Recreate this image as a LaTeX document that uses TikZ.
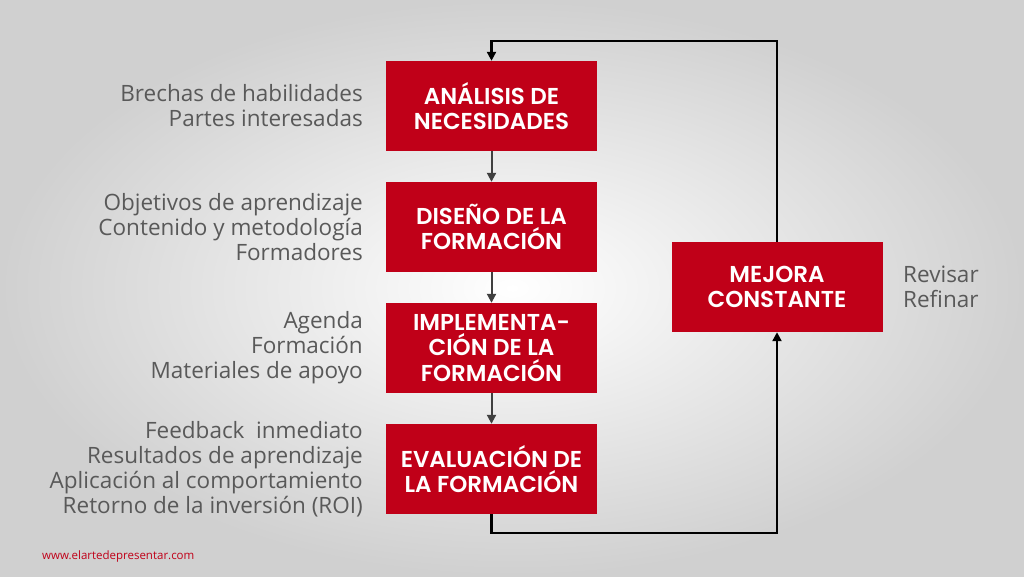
\documentclass[tikz,border=0pt]{standalone}
\usepackage{fontspec}
\setmainfont{Open Sans}
\newfontfamily\boxfont{Poppins}[BoldFont={* SemiBold}]
\usetikzlibrary{arrows.meta}
\definecolor{boxred}{HTML}{C00018}
\definecolor{txtgray}{HTML}{595959}
\definecolor{bgedge}{HTML}{D0D0D0}
\begin{document}
\begin{tikzpicture}[x=1pt,y=-1pt,
  rbox/.style={fill=boxred,minimum width=211pt,minimum height=90pt,inner sep=0pt,
    text=white,font=\boxfont\bfseries\fontsize{23}{25.5}\selectfont,align=center},
  lbl/.style={anchor=east,text=txtgray,align=right,font=\fontsize{22.5}{25}\selectfont,inner sep=0pt},
  conn/.style={draw=black!75,line width=2pt,-{Triangle[length=9pt,width=9pt]}},
  loop/.style={draw=black,line width=2.2pt,-{Triangle[length=9pt,width=9pt]}}]
\useasboundingbox (0,0) rectangle (1024,576);
\shade[inner color=white,outer color=bgedge] (0,0) rectangle (1024,576);
\node[rbox] (a) at (491.5,106) {ANÁLISIS DE\\NECESIDADES};
\node[rbox] (d) at (491.5,227) {DISEÑO DE LA\\FORMACIÓN};
\node[rbox] (i) at (491.5,348) {IMPLEMENTA-\\CIÓN DE LA\\FORMACIÓN};
\node[rbox] (e) at (491.5,469) {EVALUACIÓN DE\\LA FORMACIÓN};
\node[rbox] (m) at (777,287) {MEJORA\\CONSTANTE};
\draw[conn] (a) -- (d);
\draw[conn] (d) -- (i);
\draw[conn] (i) -- (e);
\coordinate (b1) at (491.5,533);
\coordinate (b2) at (777,533);
\coordinate (t1) at (777,41);
\coordinate (t2) at (491.5,41);
\draw[loop] (e.south) -- (b1) -- (b2) -- (m.south);
\draw[loop] (m.north) -- (t1) -- (t2) -- (a.north);
\node[lbl] (la) at (363,106) {Brechas de habilidades\\Partes interesadas};
\node[lbl] (ld) at (363,227) {Objetivos de aprendizaje\\Contenido y metodología\\Formadores};
\node[lbl] (li) at (363,348) {Agenda\\Formación\\Materiales de apoyo};
\node[lbl] (le) at (363,469) {Feedback\ \ inmediato\\Resultados de aprendizaje\\Aplicación al comportamiento\\Retorno de la inversión (ROI)};
\node[lbl,anchor=west,align=left] (lm) at (903,287) {Revisar\\Refinar};
\node[anchor=west,text=boxred,font=\fontsize{11.5}{13}\selectfont,inner sep=0pt] (w) at (42,557) {www.elartedepresentar.com};
\end{tikzpicture}
\end{document}
